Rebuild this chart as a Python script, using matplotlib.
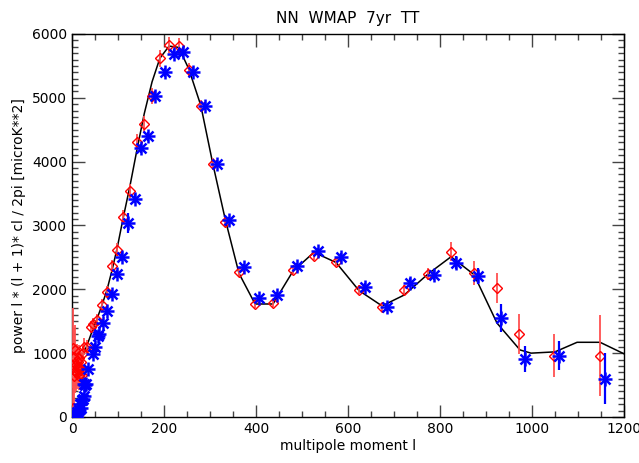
import numpy as np
import matplotlib
matplotlib.use('Agg')
import matplotlib.pyplot as plt
from matplotlib.ticker import MultipleLocator

# WMAP 7yr TT band powers (red diamonds)
l_wmap = [2, 3, 4, 5, 6, 7, 8, 9, 10, 11, 12, 13, 14, 15, 16, 17, 18, 19, 20,
          22, 24, 26, 33, 41, 46, 54, 65, 76, 87, 98, 111, 126, 141, 157, 174,
          191, 211, 232, 254, 280, 306, 333, 363, 398, 437, 480, 526, 574, 624,
          674, 722, 774, 824, 874, 924, 972, 1048, 1148]
cl_wmap = [140, 1080, 640, 940, 1050, 720, 820, 700, 880, 690, 760, 860, 800,
           640, 920, 670, 760, 740, 860, 660, 1000, 1100, 1100, 1410, 1450,
           1520, 1760, 1960, 2370, 2620, 3130, 3540, 4310, 4590, 5030, 5620,
           5830, 5810, 5440, 4870, 3960, 3060, 2270, 1770, 1790, 2300, 2520,
           2430, 1990, 1720, 1990, 2240, 2590, 2260, 2020, 1300, 960, 960]
err_wmap = [780, 620, 520, 450, 390, 350, 320, 290, 270, 250, 240, 230, 220,
            210, 200, 190, 180, 170, 165, 150, 140, 130, 110, 100, 95, 95, 95,
            95, 95, 100, 105, 110, 120, 125, 130, 130, 130, 120, 110, 100, 90,
            80, 70, 60, 60, 60, 65, 70, 70, 70, 80, 100, 150, 190, 240, 320,
            340, 630]

# NN reconstruction (blue asterisks)
l_nn = [3, 5, 7, 9, 11, 13, 15, 17, 19, 21, 23, 25, 27, 29, 31, 35, 46, 50,
        57, 59, 67, 76, 87, 98, 109, 122, 137, 150, 165, 180, 202, 222, 241,
        263, 289, 315, 341, 374, 406, 446, 490, 535, 584, 636, 684, 735, 786,
        834, 883, 933, 984, 1059, 1158]
cl_nn = [20, 40, 30, 15, 80, 60, 110, 200, 140, 270, 280, 330, 510, 500, 520,
         750, 990, 1100, 1270, 1300, 1470, 1660, 1930, 2240, 2510, 3040, 3420,
         4210, 4400, 5030, 5400, 5690, 5720, 5410, 4870, 3970, 3090, 2350,
         1860, 1910, 2360, 2600, 2510, 2040, 1720, 2100, 2220, 2420, 2210,
         1550, 910, 960, 600]
err_nn = [30, 30, 30, 30, 30, 30, 30, 30, 30, 30, 30, 30, 40, 40, 40, 50, 60,
          60, 60, 60, 60, 60, 60, 60, 70, 150, 70, 70, 70, 70, 70, 70, 70, 70,
          60, 60, 50, 50, 50, 50, 50, 50, 60, 60, 60, 70, 80, 100, 120, 220,
          200, 230, 400]

# best-fit model curve
l_model = [2, 9, 20, 33, 43, 54, 65, 76, 87, 98, 111, 126, 141, 157, 174, 191,
           211, 232, 254, 280, 306, 333, 363, 398, 437, 480, 526, 574, 624,
           674, 722, 774, 824, 874, 924, 974, 998, 1050, 1098, 1148, 1200]
cl_model = [1080, 760, 900, 1130, 1330, 1530, 1750, 1990, 2300, 2640, 3110,
            3620, 4180, 4750, 5250, 5620, 5810, 5790, 5450, 4880, 3970, 3100,
            2250, 1770, 1770, 2280, 2580, 2420, 1980, 1740, 1910, 2240, 2510,
            2230, 1470, 1050, 1000, 1020, 1170, 1170, 990]

fig = plt.figure(figsize=(6.39, 4.63), dpi=100)
ax = fig.add_axes([0.1127, 0.0994, 0.8638, 0.8272])

ax.plot(l_model, cl_model, color='black', lw=1.1, zorder=2)

ax.errorbar(l_wmap, cl_wmap, yerr=err_wmap, fmt='none', ecolor='#ff5050',
            elinewidth=1.3, capsize=0, zorder=3)
ax.plot(l_wmap, cl_wmap, linestyle='none', marker='D', markersize=5.5,
        markerfacecolor='none', markeredgecolor='red', markeredgewidth=1.0,
        zorder=4)

ax.errorbar(l_nn, cl_nn, yerr=err_nn, fmt='none', ecolor='blue',
            elinewidth=1.6, capsize=0, zorder=5)
# asterisk built from a plus and a cross
ax.plot(l_nn, cl_nn, linestyle='none', marker='+', markersize=9.5,
        markeredgecolor='blue', markeredgewidth=1.8, zorder=6)
ax.plot(l_nn, cl_nn, linestyle='none', marker='x', markersize=7,
        markeredgecolor='blue', markeredgewidth=1.8, zorder=6)

ax.set_xlim(0, 1200)
ax.set_ylim(0, 6000)
ax.xaxis.set_major_locator(MultipleLocator(200))
ax.xaxis.set_minor_locator(MultipleLocator(50))
ax.yaxis.set_major_locator(MultipleLocator(1000))
ax.yaxis.set_minor_locator(MultipleLocator(100))
ax.tick_params(which='both', direction='in', top=True, right=True,
               labelsize=10, width=1, color='#444444')
ax.tick_params(which='major', length=9)
ax.tick_params(which='minor', length=4.5)
for s in ax.spines.values():
    s.set_linewidth(1.0)

ax.set_title('NN  WMAP  7yr  TT', fontsize=11, pad=8)
ax.set_xlabel('multipole moment l', fontsize=10, labelpad=2)
ax.set_ylabel('power l * (l + 1)* cl / 2pi [microK**2]', fontsize=10,
              labelpad=4)

fig.savefig('out.png', dpi=100)
